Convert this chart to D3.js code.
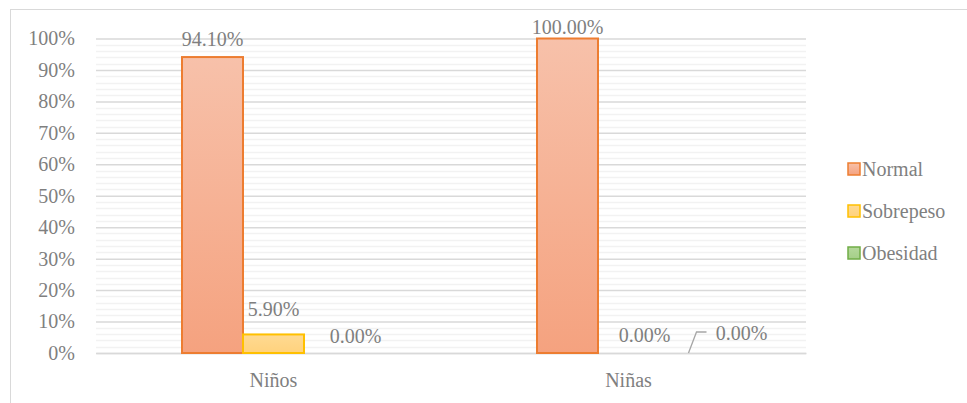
<!DOCTYPE html>
<html><head><meta charset="utf-8">
<script src="https://cdn.jsdelivr.net/npm/d3@7/dist/d3.min.js"></script>
<style>body{margin:0;background:#fff}svg{display:block}</style>
</head><body>
<script>
const categories = ["Niños", "Niñas"];
const seriesNames = ["Normal", "Sobrepeso", "Obesidad"];
const normal = [0.941, 1.0];
const sobrepeso = [0.059, 0.0];
const obesidad = [0.0, 0.0];
const yTicks = [0, 0.1, 0.2, 0.3, 0.4, 0.5, 0.6, 0.7, 0.8, 0.9, 1.0];
const labelText = [["94.10%", "5.90%", "0.00%"], ["100.00%", "0.00%", "0.00%"]];

const W = 967, H = 403;
const FONT = "Liberation Serif";
const fills = [["#F7C1AA", "#F5A27F"], ["#FFDA92", "#FFD27D"], ["#B5D89C", "#A5CF88"]];
const strokes = ["#ED7D31", "#FFC000", "#70AD47"];
const txt = "#7F7F7F";
const fs = 20;
// label nudges (dx, dy from the default "above bar" placement)
const labelNudge = [[[0, -4], [0, -11], [21, -3]], [[0, 2], [16, -4], [52, -6]]];

const svg = d3.select("body").append("svg").attr("width", W).attr("height", H).style("font-family", FONT);
const defs = svg.append("defs");
fills.forEach((f, i) => {
  const g = defs.append("linearGradient").attr("id", "g" + i).attr("x1", 0).attr("y1", 0).attr("x2", 0).attr("y2", 1);
  g.append("stop").attr("offset", "0%").attr("stop-color", f[0]);
  g.append("stop").attr("offset", "100%").attr("stop-color", f[1]);
});

// chart border
svg.append("rect").attr("x", 10.5).attr("y", 9.5).attr("width", W).attr("height", H)
  .attr("fill", "none").attr("stroke", "#D9D9D9").attr("stroke-width", 1);

const x0 = d3.scaleBand().domain(categories).range([96, 806]).paddingInner(0).paddingOuter(0);
const groupW = x0.bandwidth() * 183 / 355;
const x1 = d3.scaleBand().domain(seriesNames).range([-groupW / 2, groupW / 2]);
const y = d3.scaleLinear().domain([0, 1]).range([353, 38.5]);

// minor gridlines
const minor = d3.range(0, 1.0001, 0.02).filter(v => Math.abs(v * 10 - Math.round(v * 10)) > 1e-6);
svg.append("g").selectAll("line").data(minor).join("line")
  .attr("x1", 96).attr("x2", 806)
  .attr("y1", d => Math.round(y(d)) + 0.5).attr("y2", d => Math.round(y(d)) + 0.5)
  .attr("stroke", "#F2F2F2").attr("stroke-width", 1.5);

// major gridlines via axis
const yAxis = d3.axisLeft(y).tickValues(yTicks).tickFormat(d3.format(".0%")).tickSize(-710).tickPadding(21);
const ga = svg.append("g").attr("transform", "translate(96,0)").call(yAxis).attr("font-family", null);
ga.select(".domain").remove();
ga.selectAll(".tick line").attr("stroke", "#D9D9D9").attr("stroke-width", 1.5);
ga.selectAll(".tick text").attr("fill", txt).attr("font-size", fs).style("font-family", FONT);

// x axis
const xAxis = d3.axisBottom(x0).tickSize(0).tickPadding(20);
const gx = svg.append("g").attr("transform", "translate(0,353)").call(xAxis).attr("font-family", null);
gx.select(".domain").attr("stroke", "#D9D9D9").attr("stroke-width", 1.5);
gx.selectAll(".tick text").attr("fill", txt).attr("font-size", fs).style("font-family", FONT);

const series = [normal, sobrepeso, obesidad];
const bars = [];
categories.forEach((c, ci) => {
  seriesNames.forEach((s, si) => {
    bars.push({ c, ci, s, si, v: series[si][ci] });
  });
});

const gb = svg.append("g");
gb.selectAll("rect").data(bars.filter(d => d.v > 0)).join("rect")
  .attr("x", d => x0(d.c) + x0.bandwidth() / 2 + x1(d.s))
  .attr("width", x1.bandwidth())
  .attr("y", d => y(d.v))
  .attr("height", d => y(0) - y(d.v))
  .attr("fill", d => `url(#g${d.si})`)
  .attr("stroke", d => strokes[d.si]).attr("stroke-width", 2);

// data labels
svg.append("g").selectAll("text").data(bars).join("text")
  .attr("x", d => x0(d.c) + x0.bandwidth() / 2 + x1(d.s) + x1.bandwidth() / 2 + labelNudge[d.ci][d.si][0])
  .attr("y", d => y(d.v) - 7 + labelNudge[d.ci][d.si][1])
  .attr("text-anchor", "middle").attr("fill", txt).attr("font-size", fs).style("font-family", FONT)
  .text(d => labelText[d.ci][d.si]);

// leader line for last label
{
  const d = bars[5];
  const bx = x0(d.c) + x0.bandwidth() / 2 + x1(d.s) + x1.bandwidth() / 2;
  const by = y(d.v);
  svg.append("path")
    .attr("d", `M${bx - 1},${by} L${bx + 7},${by - 21} L${bx + 17},${by - 21}`)
    .attr("fill", "none").attr("stroke", "#A6A6A6").attr("stroke-width", 1.3);
}

// legend
const lg = svg.append("g");
seriesNames.forEach((s, i) => {
  const cy = 169 + i * 42;
  lg.append("rect").attr("x", 848).attr("y", cy - 6).attr("width", 12).attr("height", 12)
    .attr("fill", `url(#g${i})`).attr("stroke", strokes[i]).attr("stroke-width", 1.5);
  lg.append("text").attr("x", 862).attr("y", cy + 7).attr("fill", txt).attr("font-size", fs).style("font-family", FONT).text(s);
});
</script>
</body></html>
